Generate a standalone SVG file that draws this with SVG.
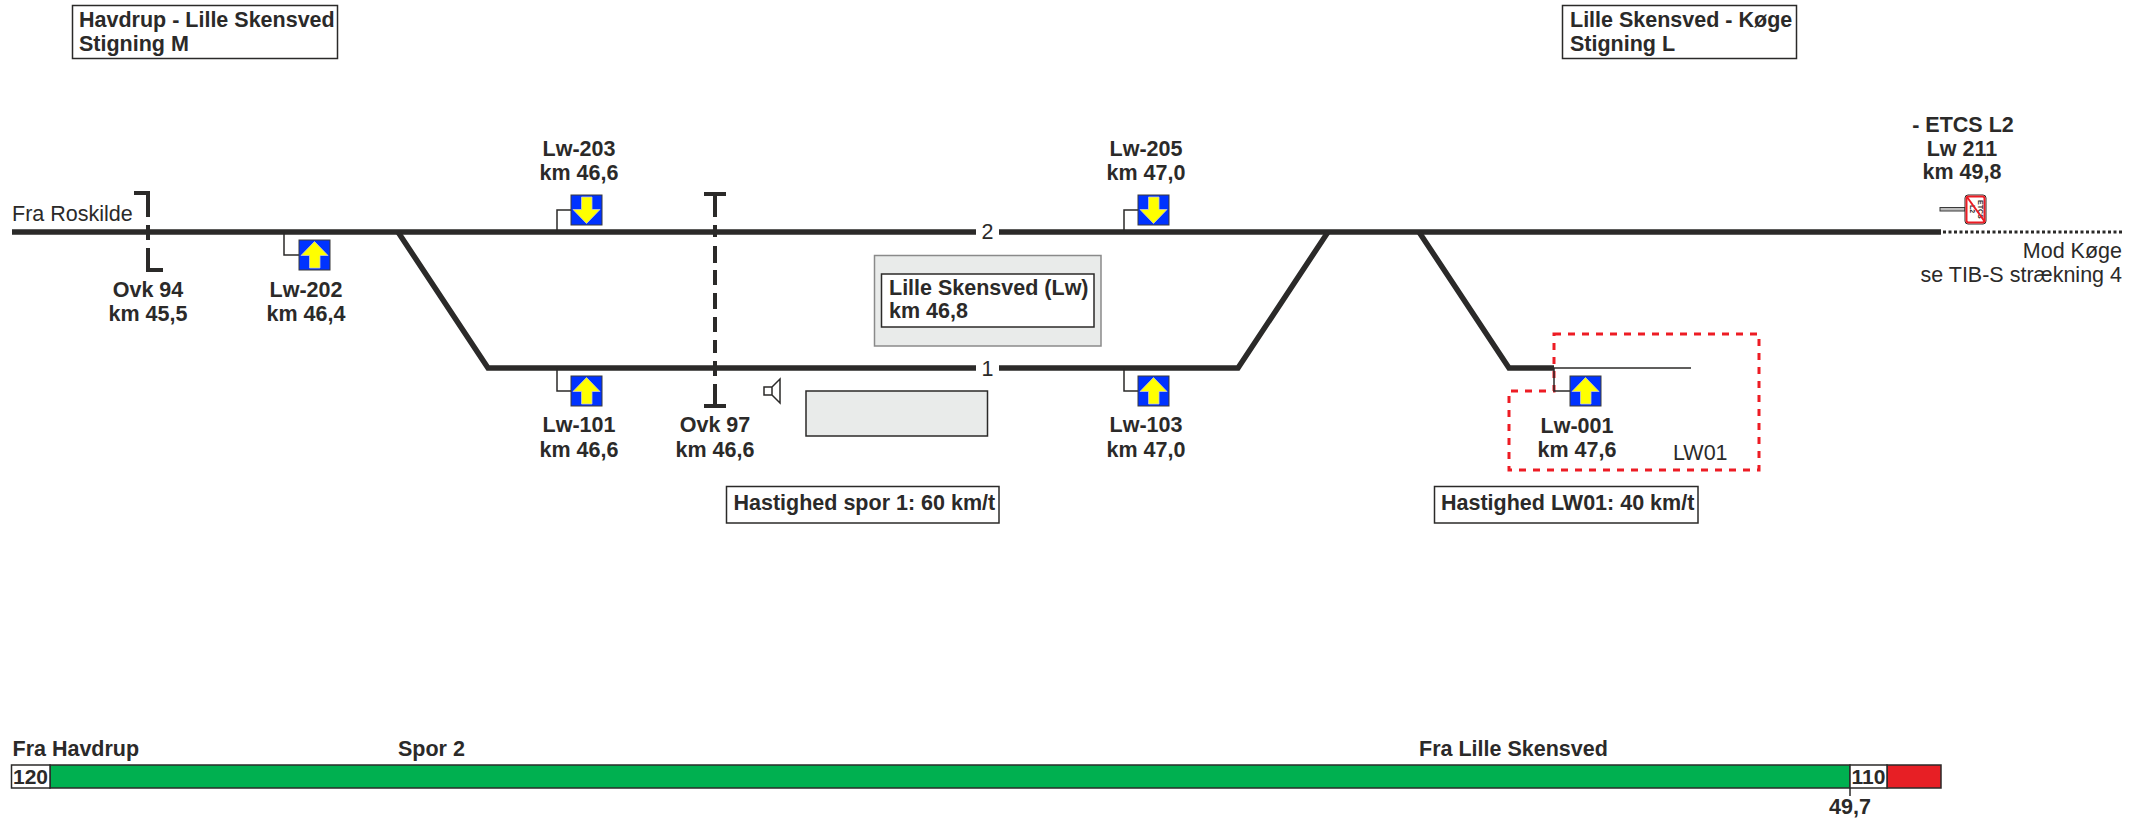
<svg xmlns="http://www.w3.org/2000/svg" width="2145" height="821" viewBox="0 0 2145 821">
<style>
text{font-family:"Liberation Sans",Arial,sans-serif;fill:#2b2a29}
.b{font-weight:bold;font-size:21.5px}
.r{font-size:21.5px}
.n{font-weight:bold;font-size:21px}
.m{text-anchor:middle}
.e{text-anchor:end}
.box{fill:#fff;stroke:#2b2a29;stroke-width:1.5}
.grey{fill:#e9ebea;stroke:#2b2a29;stroke-width:1.5}
.track{fill:none;stroke:#2b2a29;stroke-width:5.5}
.thin{fill:none;stroke:#2b2a29;stroke-width:1.5}
.ovk{fill:none;stroke:#2b2a29;stroke-width:4}
</style>
<defs>
<g id="sig-up"><rect x="0" y="0" width="31" height="30" fill="#0033ff" stroke="#3a3a3a" stroke-width="1"/><polygon points="15.5,1.5 29,15.5 21,15.5 21,28 10.5,28 10.5,15.5 2,15.5" fill="#ffff00" stroke="#c9c9c9" stroke-width=".8"/></g>
<g id="sig-down"><rect x="0" y="0" width="31" height="30" fill="#0033ff" stroke="#3a3a3a" stroke-width="1"/><polygon points="15.5,28.5 29,14.5 21,14.5 21,2 10.5,2 10.5,14.5 2,14.5" fill="#ffff00" stroke="#c9c9c9" stroke-width=".8"/></g>
</defs>

<g id="connectors">
<path class="track" d="M12 232H976M999 232H1941"/>
<path class="track" d="M398 232L488 368H976M999 368H1238L1328 232"/>
<path class="track" d="M1419 232L1509 368H1554"/>
<path class="thin" d="M1554 368H1691"/>
<path d="M1943 232H2122" fill="none" stroke="#2b2a29" stroke-width="3" stroke-dasharray="3 2.5"/>
<path d="M1554 334H1759V470H1509V391H1554Z" fill="none" stroke="#ed1c24" stroke-width="3" stroke-dasharray="7 7"/>
</g>

<g id="track-labels">
<text class="r m" x="987.5" y="239">2</text>
<text class="r m" x="987.5" y="376">1</text>
<text class="r" x="12" y="221">Fra Roskilde</text>
<text class="r e" x="2122" y="258">Mod Køge</text>
<text class="r e" x="2122" y="282">se TIB-S strækning 4</text>
</g>

<g id="box-havdrup"><rect class="box" x="72.5" y="5.5" width="265" height="53"/><text class="b" x="79" y="27">Havdrup - Lille Skensved</text><text class="b" x="79" y="51">Stigning M</text></g>
<g id="box-koege"><rect class="box" x="1562.5" y="5.5" width="234" height="53"/><text class="b" x="1570" y="27">Lille Skensved - Køge</text><text class="b" x="1570" y="51">Stigning L</text></g>

<g id="ovk-94"><path class="ovk" d="M134 193H148V217M148 225V240M148 248V270H163"/><text class="b m" x="148" y="297">Ovk 94</text><text class="b m" x="148" y="321">km 45,5</text></g>
<g id="ovk-97"><path class="ovk" d="M704 194H726M715 194V217M715 225V237M715 246V263M715 270V285M715 293V309M715 317V332M715 340V353M715 361V376M715 384V406M704 406H726"/><text class="b m" x="715" y="432">Ovk 97</text><text class="b m" x="715" y="457">km 46,6</text></g>

<g id="lw-202"><path class="thin" d="M284 232V255H299"/><use href="#sig-up" x="299" y="240"/><text class="b m" x="306" y="297">Lw-202</text><text class="b m" x="306" y="321">km 46,4</text></g>
<g id="lw-203"><path class="thin" d="M557 232V210H571"/><use href="#sig-down" x="571" y="195"/><text class="b m" x="579" y="156">Lw-203</text><text class="b m" x="579" y="180">km 46,6</text></g>
<g id="lw-205"><path class="thin" d="M1124 232V210H1138"/><use href="#sig-down" x="1138" y="195"/><text class="b m" x="1146" y="156">Lw-205</text><text class="b m" x="1146" y="180">km 47,0</text></g>
<g id="lw-101"><path class="thin" d="M557 368V391H571"/><use href="#sig-up" x="571" y="376"/><text class="b m" x="579" y="432">Lw-101</text><text class="b m" x="579" y="457">km 46,6</text></g>
<g id="lw-103"><path class="thin" d="M1124 368V391H1138"/><use href="#sig-up" x="1138" y="376"/><text class="b m" x="1146" y="432">Lw-103</text><text class="b m" x="1146" y="457">km 47,0</text></g>
<g id="lw-001"><path class="thin" d="M1554 368V391H1570"/><use href="#sig-up" x="1570" y="376"/><text class="b m" x="1577" y="433">Lw-001</text><text class="b m" x="1577" y="457">km 47,6</text></g>
<text id="lw01" class="r" x="1673" y="460">LW01</text>

<g id="lw-211">
<text class="b m" x="1963" y="132">- ETCS L2</text><text class="b m" x="1962" y="156">Lw 211</text><text class="b m" x="1962" y="179">km 49,8</text>
<rect x="1940" y="207.5" width="25" height="3.5" fill="#bdbdbd" stroke="#3a3a3a" stroke-width="1"/>
<rect x="1965" y="195" width="21" height="29" rx="3" fill="#fff" stroke="#2b2a29" stroke-width="1"/>
<rect x="1966.5" y="196.5" width="18" height="26" rx="2" fill="#fff" stroke="#ed1c24" stroke-width="2"/>
<text font-size="7" font-weight="bold" transform="translate(1978 200) rotate(90)">ETCS</text>
<text font-size="7" font-weight="bold" transform="translate(1970 205) rotate(90)">L2</text>
<path d="M1967 197L1985 222" stroke="#ed1c24" stroke-width="2" fill="none"/>
</g>

<g id="station"><rect x="874.5" y="255.5" width="226.5" height="90.5" fill="#e9ebea" stroke="#8a8a8a" stroke-width="1.5"/><rect class="box" x="881.5" y="274" width="212.5" height="53"/><text class="b" x="889" y="295">Lille Skensved (Lw)</text><text class="b" x="889" y="318">km 46,8</text></g>
<g id="speaker"><path class="thin" d="M764 387H772V395H764ZM772 387L780 379V403L772 395"/></g>
<rect id="platform" class="grey" x="806" y="391" width="181.5" height="45"/>

<g id="speed-1"><rect class="box" x="726.5" y="486.5" width="272.5" height="36.5"/><text class="b" x="733.5" y="510">Hastighed spor 1: 60 km/t</text></g>
<g id="speed-lw01"><rect class="box" x="1434.5" y="486.5" width="263.5" height="36.5"/><text class="b" x="1441" y="510">Hastighed LW01: 40 km/t</text></g>

<g id="speed-bar">
<rect x="50" y="765" width="1800" height="23" fill="#00b050" stroke="#2b2a29" stroke-width="1.5"/>
<rect x="1887" y="765" width="54" height="23" fill="#e71f25" stroke="#2b2a29" stroke-width="1.5"/>
<rect class="box" x="11.5" y="765" width="38.5" height="23"/>
<rect class="box" x="1850" y="765" width="37" height="23"/>
<path class="thin" d="M1850 788V796"/>
<text class="n m" x="30.5" y="784">120</text>
<text class="n m" x="1868.5" y="784">110</text>
<text class="b m" x="1850" y="814">49,7</text>
<text class="b" x="12.5" y="756">Fra Havdrup</text>
<text class="b" x="398" y="756">Spor 2</text>
<text class="b" x="1419" y="756">Fra Lille Skensved</text>
</g>
</svg>
